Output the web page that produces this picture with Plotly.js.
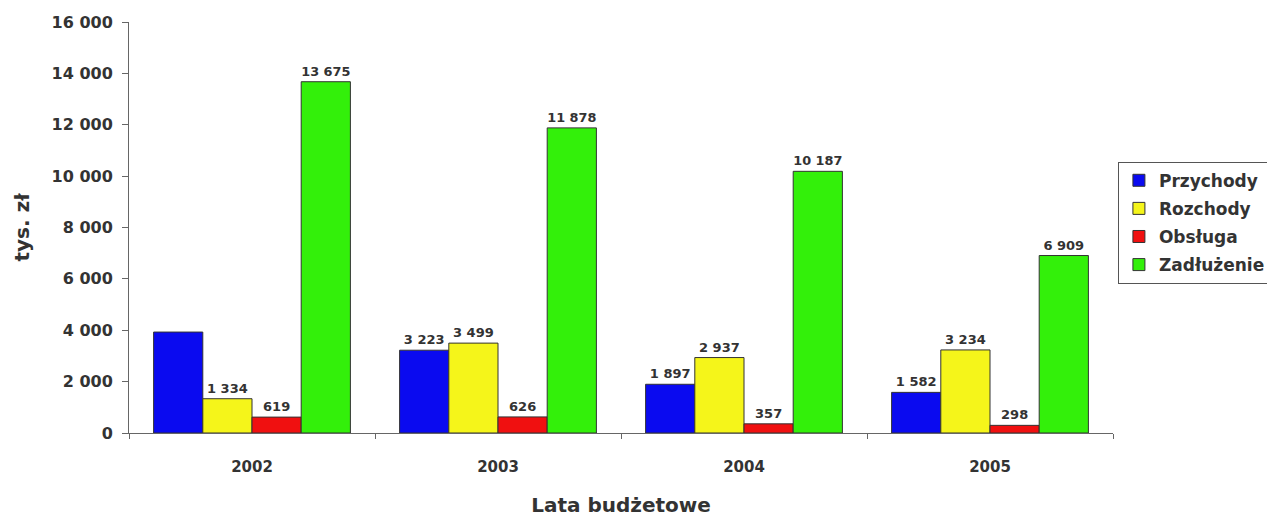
<!DOCTYPE html>
<html>
<head>
<meta charset="utf-8">
<script src="https://cdn.plot.ly/plotly-3.0.1.min.js"></script>
<style>html,body{margin:0;padding:0;background:#fff;}#chart{width:1267px;height:517px;}</style>
</head>
<body>
<div id="chart"></div>
<script>
var years = ['2002', '2003', '2004', '2005'];
var seriesNames = ['Przychody', 'Rozchody', 'Obsługa', 'Zadłużenie'];
var przychody = [3930, 3223, 1897, 1582];
var rozchody = [1334, 3499, 2937, 3234];
var obsluga = [619, 626, 357, 298];
var zadluzenie = [13675, 11878, 10187, 6909];
var przychodyLabelShown = [false, true, true, true];
var yTickVals = [0, 2000, 4000, 6000, 8000, 10000, 12000, 14000, 16000];
var colors = ['#0a0af0', '#f5f51a', '#f01010', '#33f00a'];

var FONT = 'DejaVu Sans, Verdana, sans-serif';

function fmt(v) {
  return String(v).replace(/\B(?=(\d{3})+(?!\d))/g, ' ');
}
function labels(vals, shown) {
  return vals.map(function (v, i) { return (shown && !shown[i]) ? '' : fmt(v); });
}

var allSeries = [przychody, rozchody, obsluga, zadluzenie];
var traces = allSeries.map(function (vals, k) {
  return {
    type: 'bar',
    name: seriesNames[k],
    legendgroup: 'g' + k,
    x: years,
    y: vals,
    text: labels(vals, k === 0 ? przychodyLabelShown : null),
    textposition: 'outside',
    cliponaxis: false,
    textfont: {family: FONT, size: 13, weight: 'bold', color: '#333'},
    marker: {color: colors[k], line: {color: '#333', width: 1}}
  };
});

var layout = {
  width: 1267, height: 517,
  margin: {l: 129, r: 154, t: 22, b: 84, autoexpand: false},
  paper_bgcolor: '#fff', plot_bgcolor: '#fff',
  barmode: 'group', bargap: 0.2, bargroupgap: 0,
  font: {family: FONT, color: '#333'},
  xaxis: {
    type: 'category',
    showline: true, linecolor: '#666', linewidth: 1,
    ticks: 'outside', tickson: 'boundaries', ticklen: 5, tickcolor: '#666',
    ticklabelstandoff: 20,
    tickfont: {size: 15, family: FONT, weight: 'bold', color: '#333'},
    showgrid: false, zeroline: false,
    title: {text: 'Lata budżetowe', font: {size: 20, family: FONT, weight: 'bold', color: '#333'}, standoff: 27}
  },
  yaxis: {
    range: [0, 16000],
    tickmode: 'array', tickvals: yTickVals,
    ticktext: yTickVals.map(fmt),
    showline: true, linecolor: '#666', linewidth: 1,
    ticks: 'outside', ticklen: 6, tickcolor: '#666',
    ticklabelstandoff: 6,
    tickfont: {size: 16, family: FONT, weight: 'bold', color: '#333'},
    showgrid: false, zeroline: false,
    title: {text: 'tys. zł', font: {size: 20, family: FONT, weight: 'bold', color: '#333'}, standoff: 16}
  },
  legend: {
    x: 1.005, xanchor: 'left', y: 0.66, yanchor: 'top',
    bordercolor: '#555', borderwidth: 1, bgcolor: '#fff',
    font: {size: 17, family: FONT, weight: 'bold', color: '#333'},
    tracegroupgap: 3
  },
  showlegend: true
};

Plotly.newPlot('chart', traces, layout, {staticPlot: true, displayModeBar: false});
</script>
</body>
</html>
